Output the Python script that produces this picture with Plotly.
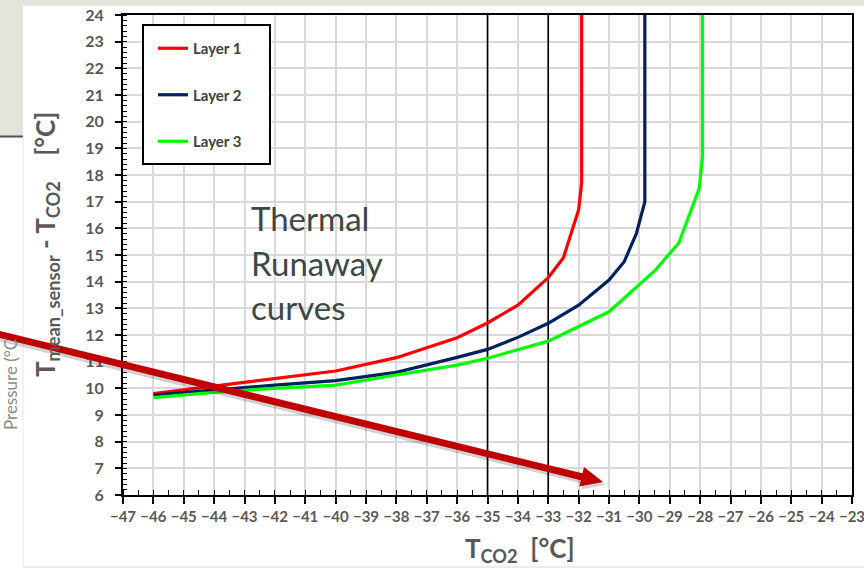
import plotly.graph_objects as go

# ---- data -------------------------------------------------------------
layer1_t = [-46, -44, -42, -40, -38, -36, -35, -34, -33, -32.5, -32.0, -31.9, -31.9]
layer1_dt = [9.8, 10.08, 10.35, 10.65, 11.15, 11.9, 12.45, 13.12, 14.15, 14.9, 16.7, 17.7, 24]

layer2_t = [-46, -44, -42, -40, -38, -36, -35, -34, -33, -32, -31, -30.5, -30.1, -29.82, -29.82]
layer2_dt = [9.75, 9.95, 10.12, 10.29, 10.6, 11.16, 11.46, 11.91, 12.44, 13.12, 14.06, 14.75, 15.8, 17.0, 24]

layer3_t = [-46, -44, -42, -40, -38, -36, -35, -33, -31, -29.5, -28.7, -28.03, -27.92, -27.92]
layer3_dt = [9.65, 9.85, 10.0, 10.12, 10.5, 10.87, 11.13, 11.77, 12.87, 14.4, 15.45, 17.5, 18.7, 24]

limit_lines = [-35, -33]

x_range = [-47, -23]
y_range = [6, 24]

# ---- page geometry ----------------------------------------------------
W, H = 864, 569
L, R, T, B = 123, 12, 15, 74
PW, PH = W - L - R, H - T - B


def px(xp):
    return (xp - L) / PW


def py(yp):
    return (H - B - yp) / PH


GRAY = "#595959"
fig = go.Figure()

series = [
    ("Layer 1", layer1_t, layer1_dt, "#ff0000"),
    ("Layer 2", layer2_t, layer2_dt, "#002060"),
    ("Layer 3", layer3_t, layer3_dt, "#00ff00"),
]
for name, xs, ys, col in series:
    fig.add_trace(go.Scatter(
        x=xs, y=ys, mode="lines", name=name, legendgroup=name,
        line=dict(color=col, width=3.2),
    ))

shapes = []
# slide background pieces around the chart
shapes.append(dict(type="rect", xref="paper", yref="paper", x0=px(0), x1=px(W),
                   y0=py(0), y1=py(6), fillcolor="#e4e4da", line_width=0, layer="below"))
shapes.append(dict(type="rect", xref="paper", yref="paper", x0=px(0), x1=px(23),
                   y0=py(0), y1=py(136), fillcolor="#e4e4da", line_width=0, layer="below"))
shapes.append(dict(type="line", xref="paper", yref="paper", x0=px(0), x1=px(23),
                   y0=py(136.5), y1=py(136.5), line=dict(color="#4b5654", width=2), layer="below"))
shapes.append(dict(type="line", xref="paper", yref="paper", x0=px(23), x1=px(23),
                   y0=py(137), y1=py(567), line=dict(color="#e6e6e6", width=1), layer="below"))
shapes.append(dict(type="line", xref="paper", yref="paper", x0=px(23), x1=px(W),
                   y0=py(567), y1=py(567), line=dict(color="#d9d9d9", width=1), layer="below"))

# limit lines
for xv in limit_lines:
    shapes.append(dict(type="line", xref="x", yref="y", x0=xv, x1=xv,
                       y0=y_range[0], y1=y_range[1],
                       line=dict(color="black", width=1.6), layer="between"))

# legend frame
shapes.append(dict(type="rect", xref="paper", yref="paper", x0=px(143), x1=px(270),
                   y0=py(25), y1=py(164), fillcolor="white",
                   line=dict(color="black", width=2), layer="above"))


# big callout arrow across the chart (shadow drawn first)
def arrow(x0, y0, x1, y1, color, width, head_len=22, head_half=10):
    dx, dy = x1 - x0, y1 - y0
    n = (dx * dx + dy * dy) ** 0.5
    ux, uy = dx / n, dy / n
    bx, by = x1 - head_len * ux, y1 - head_len * uy
    c1 = (bx - head_half * uy, by + head_half * ux)
    c2 = (bx + head_half * uy, by - head_half * ux)
    out = [dict(type="line", xref="paper", yref="paper",
                x0=px(x0), y0=py(y0), x1=px(bx + 2 * ux), y1=py(by + 2 * uy),
                line=dict(color=color, width=width), layer="above")]
    path = "M{},{} L{},{} L{},{} Z".format(px(x1), py(y1), px(c1[0]), py(c1[1]),
                                            px(c2[0]), py(c2[1]))
    out.append(dict(type="path", xref="paper", yref="paper", path=path,
                    fillcolor=color, line_width=0, layer="above"))
    return out


shapes += arrow(-2, 337, 605, 485, "rgba(0,0,0,0.18)", 8)
shapes += arrow(-2, 334, 603, 482, "#c00000", 7)

annotations = []
# text block on the plot
for txt, yc in [("Thermal", 218), ("Runaway", 263), ("curves", 307)]:
    annotations.append(dict(x=px(249), y=py(yc), xref="paper", yref="paper", text=txt,
                            showarrow=False, xanchor="left", yanchor="middle",
                            font=dict(family="Lato", size=33, color="#3c4846")))

# axis titles
annotations.append(dict(x=px(520), y=py(549), xref="paper", yref="paper",
                        text="T<sub>CO2</sub>  [°C]", showarrow=False,
                        xanchor="center", yanchor="middle",
                        font=dict(family="Lato", size=26, color=GRAY, weight="bold")))
annotations.append(dict(x=px(47), y=py(245), xref="paper", yref="paper",
                        text="T<sub>mean_sensor</sub> - T<sub>CO2</sub>    [°C]",
                        showarrow=False, textangle=-90,
                        xanchor="center", yanchor="middle",
                        font=dict(family="Lato", size=26, color=GRAY, weight="bold")))
# leftover slide label
annotations.append(dict(x=px(10), y=py(385), xref="paper", yref="paper",
                        text="Pressure (°C", showarrow=False, textangle=-90,
                        xanchor="center", yanchor="middle",
                        font=dict(family="Lato", size=17, color="#8a8a8a")))

xtickfont = dict(family="Lato", size=15, color=GRAY, weight="bold")
ytickfont = dict(family="Lato", size=16, color=GRAY, weight="bold")

fig.update_layout(
    width=W, height=H,
    margin=dict(l=L, r=R, t=T, b=B, autoexpand=False),
    paper_bgcolor="white", plot_bgcolor="white",
    shapes=shapes, annotations=annotations,
    showlegend=True,
    legend=dict(x=px(153), y=py(32), xanchor="left", yanchor="top",
                bgcolor="rgba(0,0,0,0)", borderwidth=0,
                font=dict(family="Lato", size=15, color="#404040", weight="bold"),
                tracegroupgap=24, itemwidth=30),
    xaxis=dict(range=x_range, dtick=1, tick0=-47, showgrid=True, automargin=False,
               gridcolor="#d9d9d9", gridwidth=1.5, ticklabeloverflow="allow",
               showline=True, linecolor="black", linewidth=2, mirror=True,
               ticks="outside", ticklen=7, tickwidth=1.5, tickcolor="black",
               tickfont=xtickfont, zeroline=False,
               minor=dict(dtick=0.5, ticks="inside", ticklen=5, tickwidth=1.2,
                          tickcolor="black", showgrid=False)),
    yaxis=dict(range=y_range, dtick=1, tick0=6, showgrid=True, automargin=False,
               gridcolor="#d9d9d9", gridwidth=1.5, ticklabeloverflow="allow",
               showline=True, linecolor="black", linewidth=2, mirror=True,
               ticks="outside", ticklen=6, tickwidth=1.5, tickcolor="black",
               tickfont=ytickfont, zeroline=False, ticklabelstandoff=8,
               minor=dict(dtick=0.2, ticks="inside", ticklen=4, tickwidth=1,
                          tickcolor="black", showgrid=False)),
)

fig.write_html("out.html")
